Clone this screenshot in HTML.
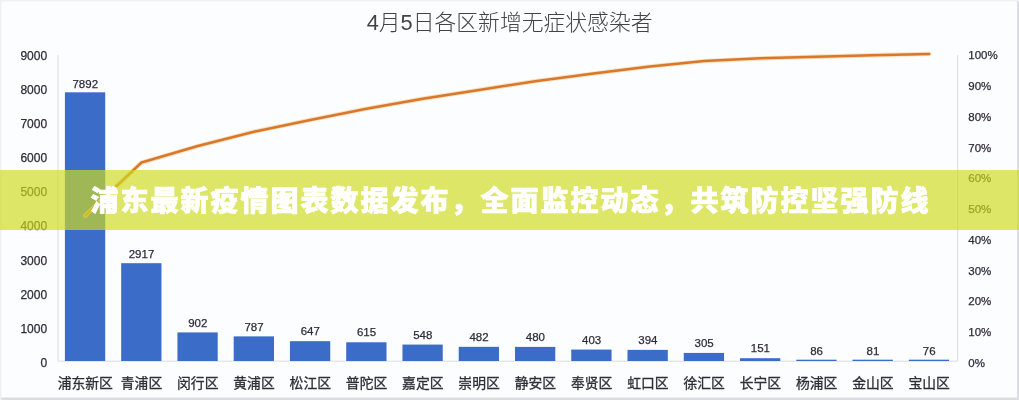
<!DOCTYPE html>
<html lang="zh-CN">
<head>
<meta charset="utf-8">
<title>浦东最新疫情图表数据发布，全面监控动态，共筑防控坚强防线</title>
<style>
html,body{margin:0;padding:0;background:#fff;}
body{width:1019px;height:400px;overflow:hidden;position:relative;font-family:"Liberation Sans","Noto Sans CJK SC",sans-serif;}
.wrap{position:absolute;left:0;top:0;width:1019px;height:400px;overflow:hidden;}
.chart{position:absolute;left:0;top:0;display:block;filter:blur(0.45px);}
.chart text{font-family:"Liberation Sans","Noto Sans CJK SC",sans-serif;fill:#2f2b38;stroke:#2f2b38;stroke-width:.25px;}
.chart .ax text{font-size:12px;}
.chart .axr text{font-size:11.5px;}
.chart .val text{font-size:11.5px;}
.chart .cat text{font-size:13.8px;font-weight:400;fill:#2e2e36;stroke:#2e2e36;stroke-width:.3px;}
.chart .title{font-size:21.8px;font-weight:300;fill:#434347;stroke:none;}
.banner{position:absolute;left:0;top:170px;width:1019px;height:59.5px;background:rgba(206,218,30,.68);display:flex;align-items:center;justify-content:center;}
.banner h1{margin:0;font-family:"Liberation Sans","Noto Sans CJK SC",sans-serif;font-weight:900;font-size:28px;letter-spacing:2px;padding-left:2px;line-height:60px;color:#fff;white-space:nowrap;-webkit-text-stroke:0.7px #fff;position:relative;top:2.1px;left:0px;}
</style>
</head>
<body>
<div class="wrap">
<svg class="chart" width="1019" height="400" viewBox="0 0 1019 400">
<rect x="0" y="0" width="1019" height="400" fill="#fcfdff"/>
<rect x="1017" y="0" width="2" height="400" fill="#dcdde0"/>
<rect x="0" y="397.5" width="1019" height="2.5" fill="#dcdde0"/>
<rect x="0" y="0" width="1019" height="1.5" fill="#f1f2f4"/>
<rect x="0" y="0" width="1.5" height="400" fill="#eef1f1"/>
<g stroke="#dadce3" stroke-width="1" fill="none">
<path d="M58 55 V361.2 H957.7 V55"/>
</g>
<g fill="#3b6cc8">
<rect x="64.90" y="92.31" width="40.3" height="268.69"/>
<rect x="121.16" y="263.20" width="40.3" height="97.80"/>
<rect x="177.42" y="332.42" width="40.3" height="28.58"/>
<rect x="233.68" y="336.37" width="40.3" height="24.63"/>
<rect x="289.94" y="341.18" width="40.3" height="19.82"/>
<rect x="346.20" y="342.27" width="40.3" height="18.73"/>
<rect x="402.46" y="344.58" width="40.3" height="16.42"/>
<rect x="458.72" y="346.84" width="40.3" height="14.16"/>
<rect x="514.98" y="346.91" width="40.3" height="14.09"/>
<rect x="571.24" y="349.56" width="40.3" height="11.44"/>
<rect x="627.50" y="349.87" width="40.3" height="11.13"/>
<rect x="683.76" y="352.92" width="40.3" height="8.08"/>
<rect x="740.02" y="358.21" width="40.3" height="2.79"/>
<rect x="796.28" y="359.70" width="40.3" height="1.30"/>
<rect x="852.54" y="359.70" width="40.3" height="1.30"/>
<rect x="908.80" y="359.70" width="40.3" height="1.30"/>
</g>
<polyline points="85.25,215.70 141.51,162.52 197.77,146.07 254.03,131.72 310.29,119.92 366.55,108.71 422.81,98.72 479.07,89.93 535.33,81.18 591.59,73.83 647.85,66.65 704.11,61.08 760.37,58.33 816.63,56.76 872.89,55.29 929.15,53.90" fill="none" stroke="#f9d3a6" stroke-opacity=".75" stroke-width="4.4" stroke-linejoin="round" stroke-linecap="round"/>
<polyline points="85.25,215.70 141.51,162.52 197.77,146.07 254.03,131.72 310.29,119.92 366.55,108.71 422.81,98.72 479.07,89.93 535.33,81.18 591.59,73.83 647.85,66.65 704.11,61.08 760.37,58.33 816.63,56.76 872.89,55.29 929.15,53.90" fill="none" stroke="#d9782b" stroke-width="2.5" stroke-linejoin="round" stroke-linecap="round"/>
<g class="ax" text-anchor="end">
<text x="47.1" y="366.8">0</text>
<text x="47.1" y="332.7">1000</text>
<text x="47.1" y="298.6">2000</text>
<text x="47.1" y="264.5">3000</text>
<text x="47.1" y="230.4">4000</text>
<text x="47.1" y="196.3">5000</text>
<text x="47.1" y="162.2">6000</text>
<text x="47.1" y="128.1">7000</text>
<text x="47.1" y="94.0">8000</text>
<text x="47.1" y="59.9">9000</text>
</g>
<g class="axr" text-anchor="start">
<text x="968.3" y="366.9">0%</text>
<text x="968.3" y="336.1">10%</text>
<text x="968.3" y="305.4">20%</text>
<text x="968.3" y="274.6">30%</text>
<text x="968.3" y="243.9">40%</text>
<text x="968.3" y="213.1">50%</text>
<text x="968.3" y="182.4">60%</text>
<text x="968.3" y="151.6">70%</text>
<text x="968.3" y="120.9">80%</text>
<text x="968.3" y="90.1">90%</text>
<text x="968.3" y="59.4">100%</text>
</g>
<g class="val" text-anchor="middle">
<text x="85.25" y="88.3">7892</text>
<text x="141.51" y="257.9">2917</text>
<text x="197.77" y="326.6">902</text>
<text x="254.03" y="330.6">787</text>
<text x="310.29" y="335.3">647</text>
<text x="366.55" y="336.4">615</text>
<text x="422.81" y="338.7">548</text>
<text x="479.07" y="341.0">482</text>
<text x="535.33" y="341.0">480</text>
<text x="591.59" y="343.7">403</text>
<text x="647.85" y="344.0">394</text>
<text x="704.11" y="347.0">305</text>
<text x="760.37" y="352.3">151</text>
<text x="816.63" y="354.5">86</text>
<text x="872.89" y="354.6">81</text>
<text x="929.15" y="354.8">76</text>
</g>
<g class="cat" text-anchor="middle">
<text x="85.25" y="387.6">浦东新区</text>
<text x="141.51" y="387.6">青浦区</text>
<text x="197.77" y="387.6">闵行区</text>
<text x="254.03" y="387.6">黄浦区</text>
<text x="310.29" y="387.6">松江区</text>
<text x="366.55" y="387.6">普陀区</text>
<text x="422.81" y="387.6">嘉定区</text>
<text x="479.07" y="387.6">崇明区</text>
<text x="535.33" y="387.6">静安区</text>
<text x="591.59" y="387.6">奉贤区</text>
<text x="647.85" y="387.6">虹口区</text>
<text x="704.11" y="387.6">徐汇区</text>
<text x="760.37" y="387.6">长宁区</text>
<text x="816.63" y="387.6">杨浦区</text>
<text x="872.89" y="387.6">金山区</text>
<text x="929.15" y="387.6">宝山区</text>
</g>
<text class="title" x="509.6" y="30.3" text-anchor="middle">4月5日各区新增无症状感染者</text>
</svg>
<div class="banner"><h1>浦东最新疫情图表数据发布，全面监控动态，共筑防控坚强防线</h1></div>
</div>
</body>
</html>
